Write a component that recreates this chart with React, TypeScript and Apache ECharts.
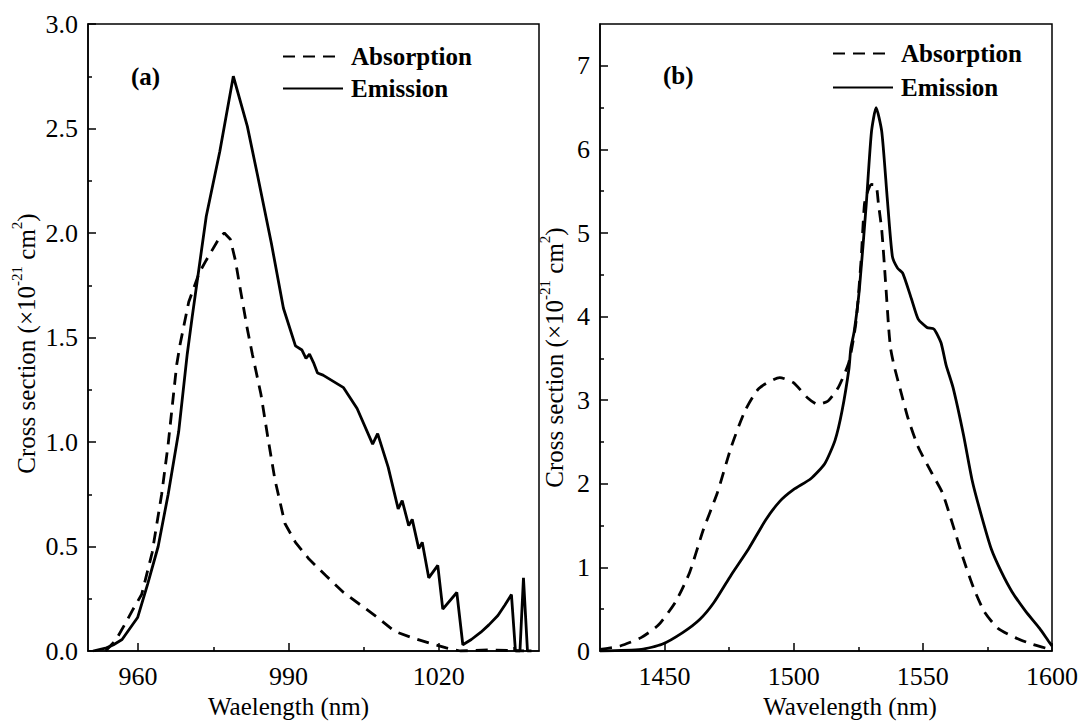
import React, { useEffect, useRef } from "react";
import * as echarts from "echarts";

const FONT = "Liberation Serif";

// ---------- Panel (a) ----------
const absA_x = [953.5, 955.5, 957.4, 959.0, 960.7, 962.8, 964.7, 966.0, 967.7, 968.4, 970.1, 972.2, 973.6, 976.3, 977.2, 978.4, 979.4, 980.4, 981.8, 982.8, 984.5, 985.9, 987.3, 989.3, 991.4, 994.1, 997.5, 1001.0, 1004.4, 1007.8, 1011.2, 1014.7, 1018.1, 1021.5, 1024.3, 1030.0, 1037.0];
const absA_y = [0.0, 0.05, 0.13, 0.2, 0.27, 0.47, 0.75, 0.99, 1.37, 1.47, 1.67, 1.81, 1.87, 1.98, 2.0, 1.97, 1.87, 1.73, 1.54, 1.42, 1.23, 1.02, 0.82, 0.61, 0.52, 0.44, 0.36, 0.28, 0.22, 0.16, 0.094, 0.063, 0.038, 0.015, 0.0, 0.005, 0.0];

const emiA_x = [951.0, 953.7, 955.1, 956.8, 959.9, 961.9, 964.0, 966.0, 968.1, 969.8, 970.8, 973.6, 976.3, 979.0, 981.8, 983.8, 986.6, 989.0, 991.4, 992.7, 993.5, 994.2, 995.0, 995.8, 996.9, 1001.0, 1003.7, 1006.8, 1007.8, 1009.9, 1011.9, 1012.7, 1014.0, 1014.7, 1016.0, 1016.7, 1018.0, 1019.8, 1020.8, 1023.6, 1024.8, 1026.5, 1028.4, 1030.0, 1031.8, 1033.2, 1034.5, 1035.3, 1036.2, 1036.9, 1037.7, 1038.5];
const emiA_y = [0.0, 0.015, 0.03, 0.055, 0.16, 0.32, 0.5, 0.75, 1.05, 1.42, 1.6, 2.08, 2.39, 2.75, 2.51, 2.28, 1.95, 1.64, 1.46, 1.44, 1.4, 1.42, 1.38, 1.33, 1.32, 1.26, 1.16, 0.99, 1.04, 0.88, 0.68, 0.72, 0.6, 0.63, 0.49, 0.52, 0.35, 0.41, 0.2, 0.28, 0.03, 0.055, 0.09, 0.125, 0.17, 0.22, 0.27, 0.0, 0.0, 0.35, 0.0, 0.0];

const xMajorA = [960, 990, 1020];
const xMinorA = [975, 1005, 1035];
const yMajorA = [0, 0.5, 1.0, 1.5, 2.0, 2.5, 3.0];
const yMinorA = [0.25, 0.75, 1.25, 1.75, 2.25, 2.75];

// ---------- Panel (b) ----------
const absB_x = [1425, 1432.8, 1440.9, 1447.6, 1454.3, 1459.7, 1465.0, 1470.4, 1475.8, 1481.1, 1486.5, 1494.6, 1499.9, 1505.3, 1509.3, 1513.3, 1517.4, 1521.4, 1524.1, 1526.1, 1527.4, 1528.8, 1530.1, 1531.9, 1532.8, 1534.1, 1535.5, 1536.8, 1537.5, 1538.8, 1541.5, 1544.2, 1548.2, 1553.6, 1557.6, 1561.7, 1565.7, 1569.7, 1573.8, 1579.1, 1585.8, 1592.5, 1599.3];
const absB_y = [0.02, 0.06, 0.16, 0.31, 0.59, 0.94, 1.45, 1.89, 2.44, 2.87, 3.14, 3.27, 3.21, 3.03, 2.95, 2.99, 3.16, 3.46, 3.93, 4.68, 5.35, 5.51, 5.58, 5.57, 5.35, 5.03, 4.44, 3.85, 3.62, 3.42, 3.1, 2.79, 2.44, 2.12, 1.89, 1.5, 1.1, 0.75, 0.47, 0.27, 0.16, 0.08, 0.02];

const emiB_x = [1425, 1441, 1449, 1457, 1463.7, 1469.1, 1475.8, 1482.5, 1489.2, 1494.6, 1499.9, 1506.6, 1512.0, 1516.0, 1518.7, 1521.4, 1522.1, 1523.4, 1525.4, 1528.1, 1530.1, 1531.9, 1534.1, 1536.2, 1538.2, 1540.2, 1542.2, 1545.6, 1548.2, 1551.6, 1554.3, 1557.0, 1559.0, 1561.7, 1565.7, 1569.1, 1572.4, 1576.5, 1580.5, 1584.5, 1589.9, 1595.2, 1598.6, 1600];
const emiB_y = [0.0, 0.02, 0.08, 0.22, 0.38, 0.58, 0.91, 1.22, 1.57, 1.79, 1.93, 2.06, 2.24, 2.52, 2.87, 3.38, 3.62, 3.82, 4.32, 5.35, 6.21, 6.5, 6.21, 5.42, 4.72, 4.58, 4.52, 4.21, 3.97, 3.87, 3.85, 3.69, 3.42, 3.15, 2.59, 2.04, 1.65, 1.22, 0.94, 0.71, 0.47, 0.27, 0.12, 0.06];

const xMajorB = [1450, 1500, 1550, 1600];
const xMinorB = [1475, 1525, 1575];
const yMajorB = [0, 1, 2, 3, 4, 5, 6, 7];
const yMinorB = [0.5, 1.5, 2.5, 3.5, 4.5, 5.5, 6.5];

const zip = (xs: number[], ys: number[]) => xs.map((x, i) => [x, ys[i]]);

const AXIS_LINE = { show: true, lineStyle: { color: "#000", width: 1.5 } };
const TICK_STYLE = { color: "#000", width: 1.5 };
const LABEL = { fontFamily: FONT, fontSize: 26, color: "#000" };

const yName = "{n|Cross section (×10}{s|-21}{n| cm}{s|2}{n|)}";
function yNameStyle(shiftPad: number) {
  return {
    fontFamily: FONT,
    fontSize: 25,
    color: "#000",
    padding: [0, shiftPad, 0, 0],
    rich: {
      n: { fontFamily: FONT, fontSize: 25, color: "#000", lineHeight: 30, verticalAlign: "bottom" },
      s: { fontFamily: FONT, fontSize: 15, color: "#000", lineHeight: 18, verticalAlign: "top" },
    },
  };
}

function mainX(grid: number, min: number, max: number, major: number[], name: string, pad: number[]) {
  return {
    type: "value",
    gridIndex: grid,
    position: "bottom",
    min,
    max,
    axisLine: AXIS_LINE,
    axisTick: { show: true, inside: true, length: 8, customValues: major, lineStyle: TICK_STYLE },
    axisLabel: { ...LABEL, margin: 12, customValues: major, formatter: (v: number) => String(v) },
    splitLine: { show: false },
    name,
    nameLocation: "middle",
    nameGap: 43,
    nameTextStyle: { fontFamily: FONT, fontSize: 25, color: "#000", padding: pad },
  };
}
function minorX(grid: number, min: number, max: number, minor: number[]) {
  return {
    type: "value",
    gridIndex: grid,
    position: "bottom",
    min,
    max,
    axisLine: { show: false },
    axisTick: { show: true, inside: true, length: 4, customValues: minor, lineStyle: TICK_STYLE },
    axisLabel: { show: false },
    splitLine: { show: false },
  };
}
function mainY(grid: number, min: number, max: number, major: number[], dec: number, gap: number, shiftPad: number) {
  return {
    type: "value",
    gridIndex: grid,
    position: "left",
    min,
    max,
    axisLine: AXIS_LINE,
    axisTick: { show: true, inside: true, length: 8, customValues: major, lineStyle: TICK_STYLE },
    axisLabel: { ...LABEL, margin: 10, customValues: major, formatter: (v: number) => v.toFixed(dec) },
    splitLine: { show: false },
    name: yName,
    nameLocation: "middle",
    nameRotate: 90,
    nameGap: gap,
    nameTextStyle: yNameStyle(shiftPad),
  };
}
function minorY(grid: number, min: number, max: number, minor: number[]) {
  return {
    type: "value",
    gridIndex: grid,
    position: "left",
    min,
    max,
    axisLine: { show: false },
    axisTick: { show: true, inside: true, length: 4, customValues: minor, lineStyle: TICK_STYLE },
    axisLabel: { show: false },
    splitLine: { show: false },
  };
}

const DASH = { color: "#000", width: 2.8, type: [12, 8] };
const SOLID = { color: "#000", width: 2.8, type: "solid" };

function legendAt(left: number, top: number, gap: number) {
  return {
    data: ["Absorption", "Emission"],
    orient: "vertical",
    left,
    top,
    padding: 0,
    itemWidth: 60,
    itemHeight: 12,
    itemGap: gap,
    selectedMode: false,
    itemStyle: { opacity: 0 },
    textStyle: { fontFamily: FONT, fontSize: 25, fontWeight: "bold", color: "#000", padding: [0, 0, 0, 3] },
  };
}

export default function App() {
  const ref = useRef<HTMLDivElement>(null);
  useEffect(() => {
    if (!ref.current) return;
    const chart = echarts.init(ref.current, undefined, { renderer: "svg" });
    const option: any = {
      animation: false,
      backgroundColor: "#fff",
      textStyle: { fontFamily: FONT },
      grid: [
        { left: 88, top: 24, width: 451, height: 636, show: true, borderColor: "#000", borderWidth: 1.5, backgroundColor: "transparent" },
        { left: 600, top: 24, width: 452, height: 636, show: true, borderColor: "#000", borderWidth: 1.5, backgroundColor: "transparent" },
      ],
      xAxis: [
        mainX(0, 950, 1040, xMajorA, "Waelength (nm)", [0, 50, 0, 0]),
        minorX(0, 950, 1040, xMinorA),
        mainX(1, 1425, 1600, xMajorB, "Wavelength (nm)", [0, 0, 0, 48]),
        minorX(1, 1425, 1600, xMinorB),
      ],
      yAxis: [
        mainY(0, 0, 3, yMajorA, 1, 49, 12),
        minorY(0, 0, 3, yMinorA),
        mainY(1, 0, 7.5, yMajorB, 0, 33, 40),
        minorY(1, 0, 7.5, yMinorB),
      ],
      legend: [legendAt(282, 44, 7), legendAt(832, 41, 9)],
      graphic: [
        { type: "text", left: 131, top: 64, style: { text: "(a)", fontFamily: FONT, fontSize: 25, fontWeight: "bold", fill: "#000" } },
        { type: "text", left: 663, top: 63, style: { text: "(b)", fontFamily: FONT, fontSize: 25, fontWeight: "bold", fill: "#000" } },
      ],
      series: [
        { type: "line", name: "Absorption", xAxisIndex: 0, yAxisIndex: 0, data: zip(absA_x, absA_y), symbol: "none", lineStyle: DASH, itemStyle: { color: "#000" } },
        { type: "line", name: "Emission", xAxisIndex: 0, yAxisIndex: 0, data: zip(emiA_x, emiA_y), symbol: "none", lineStyle: SOLID, itemStyle: { color: "#000" } },
        { type: "line", name: "Absorption", xAxisIndex: 2, yAxisIndex: 2, data: zip(absB_x, absB_y), symbol: "none", smooth: 0.2, lineStyle: DASH, itemStyle: { color: "#000" } },
        { type: "line", name: "Emission", xAxisIndex: 2, yAxisIndex: 2, data: zip(emiB_x, emiB_y), symbol: "none", smooth: 0.2, lineStyle: SOLID, itemStyle: { color: "#000" } },
      ],
    };
    chart.setOption(option);
    return () => chart.dispose();
  }, []);
  return <div ref={ref} style={{ position: "absolute", left: 0, top: 0, width: 1081, height: 724, background: "#fff" }} />;
}
